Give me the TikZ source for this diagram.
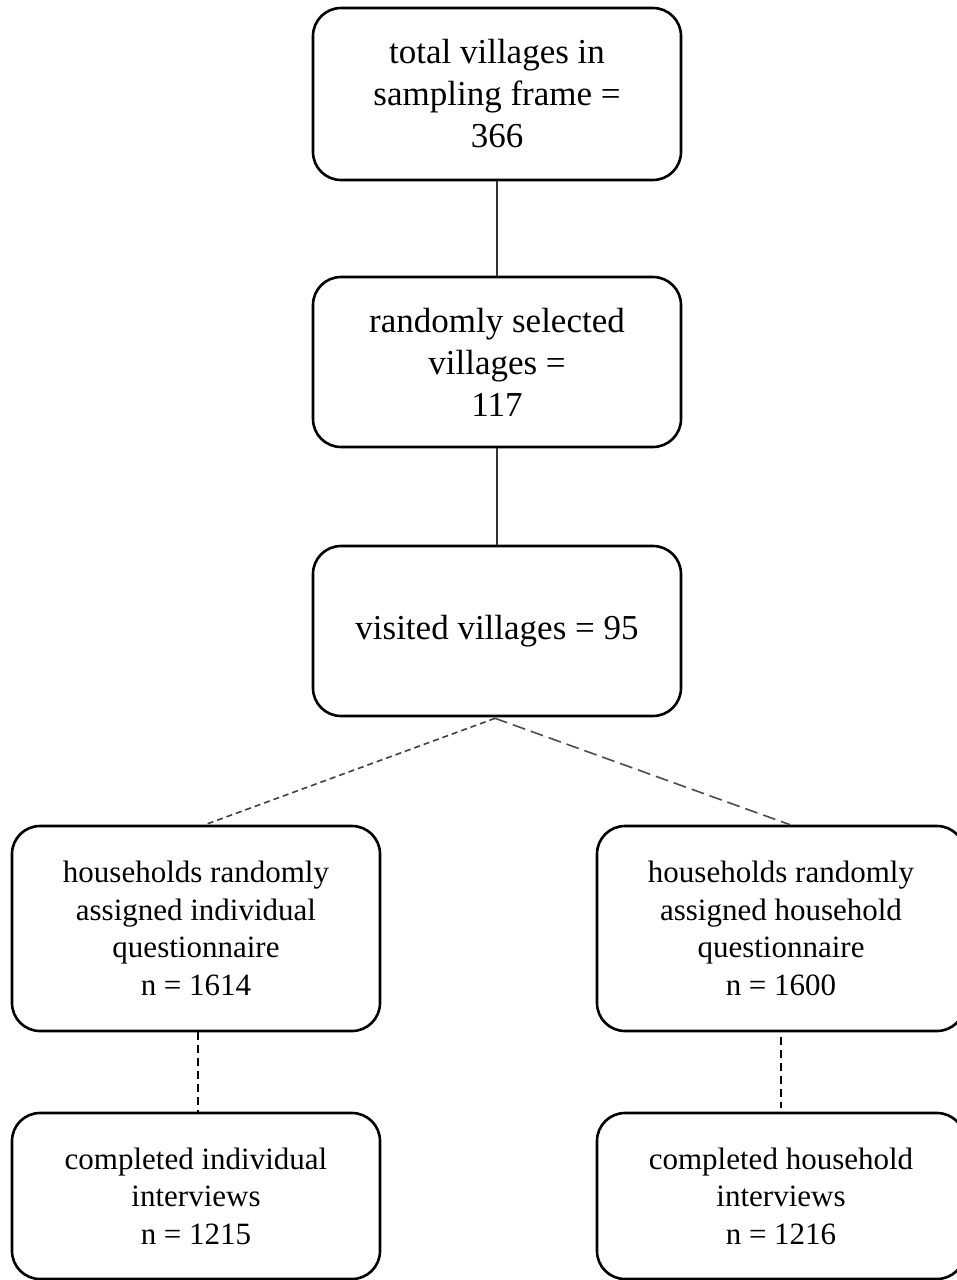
\documentclass[tikz,border=0pt]{standalone}
\usepackage{fontspec}
\setmainfont{Liberation Serif}
\begin{document}
\begin{tikzpicture}[x=1pt,y=-1pt,
  box/.style={draw=black,line width=2.6pt,rounded corners=28pt,align=center,
    minimum width=368pt,inner sep=0pt},
  bigtext/.style={font=\fontsize{35}{42}\selectfont},
  smalltext/.style={font=\fontsize{31}{37.5}\selectfont},
  solidlink/.style={draw=black!80,line width=1.4pt},
  shortdash/.style={draw=black!75,line width=1.6pt,dash pattern=on 6pt off 4pt},
  longdash/.style={draw=black!70,line width=1.6pt,dash pattern=on 13pt off 6pt},
  vdash/.style={draw=black,line width=1.2pt,dash pattern=on 8pt off 5pt}]
\useasboundingbox[fill=white] (0,0) rectangle (957,1280);
\node[box,bigtext,minimum height=172pt] (a) at (497,94) {total villages in\\sampling frame =\\366};
\node[box,bigtext,minimum height=170pt] (b) at (497,362) {randomly selected\\villages =\\117};
\node[box,bigtext,minimum height=170pt] (c) at (497,631) {visited villages = 95};
\node[box,smalltext,minimum height=205pt] (l1) at (196,928.5) {households randomly\\assigned individual\\questionnaire\\n = 1614};
\node[box,smalltext,minimum height=205pt] (r1) at (781,928.5) {households randomly\\assigned household\\questionnaire\\n = 1600};
\node[box,smalltext,minimum height=166pt] (l2) at (196,1196) {completed individual\\interviews\\n = 1215};
\node[box,smalltext,minimum height=166pt] (r2) at (781,1196) {completed household\\interviews\\n = 1216};
\draw[solidlink] (a.south) -- (b.north);
\draw[solidlink] (b.south) -- (c.north);
\draw[shortdash] ([xshift=-2pt,yshift=-1pt]c.south) -- ([xshift=9pt]l1.north);
\draw[longdash] ([xshift=-2pt,yshift=-1pt]c.south) -- ([xshift=9pt]r1.north);
\draw[vdash] ([xshift=2pt]l1.south) -- ([xshift=2pt]l2.north);
\draw[vdash] ([yshift=-5pt]r1.south) -- ([yshift=4pt]r2.north);
\end{tikzpicture}
\end{document}
